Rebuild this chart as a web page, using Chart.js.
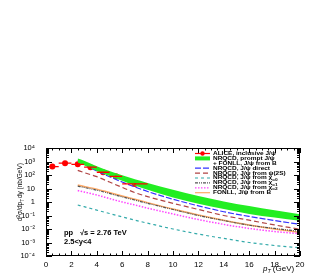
<!DOCTYPE html>
<html>
<head>
<meta charset="utf-8">
<script src="https://cdn.jsdelivr.net/npm/chart.js@4"></script>
<style>
  html, body { margin: 0; padding: 0; background: #fff; }
  #wrap { width: 335px; height: 273px; position: relative; }
</style>
</head>
<body>
<div id="wrap"><canvas id="c"></canvas></div>
<script>
// ALICE inclusive J/psi, pp 2.76 TeV, 2.5<y<4
const alicePt = [0.5, 1.5, 2.5, 3.5, 4.5, 5.5, 7];
const alicePtLow = [0, 1, 2, 3, 4, 5, 6];
const alicePtHigh = [1, 2, 3, 4, 5, 6, 8];
const aliceVal = [420, 750, 620, 380, 160, 80, 22];
const aliceErr = [70, 100, 80, 50, 22, 12, 4];

// model curves (nb/GeV)
const ptModel = [2.5, 3, 4, 5, 6, 7, 8, 10, 12, 14, 16, 18, 20];
const promptLow = [850, 520, 200, 85, 38, 17, 8, 2.2, 0.75, 0.3, 0.13, 0.07, 0.04];
const promptHigh = [1700, 1150, 450, 200, 95, 48, 26, 8, 2.8, 1.1, 0.5, 0.24, 0.125];
const direct = [1300, 650, 200, 75, 30, 13, 6, 1.6, 0.52, 0.19, 0.085, 0.042, 0.022];
const fromPsi2S = [220, 150, 75, 30, 12, 5, 2.5, 0.8, 0.28, 0.1, 0.045, 0.02, 0.0095];
const fromChic0 = [0.6, 0.45, 0.25, 0.14, 0.08, 0.045, 0.027, 0.01, 0.0042, 0.002, 0.001, 0.0006, 0.0004];
const fromChic1 = [15, 12, 7.5, 4.3, 2.4, 1.4, 0.8, 0.28, 0.1, 0.042, 0.019, 0.011, 0.0066];
const fromChic2 = [7, 5.5, 3.3, 1.8, 1.0, 0.6, 0.35, 0.13, 0.05, 0.022, 0.011, 0.0065, 0.0045];
const fonllB = [18, 14, 9, 5, 2.8, 1.6, 0.9, 0.3, 0.11, 0.045, 0.02, 0.01, 0.0056];

const yTickLabels = ['10\u207B\u2074', '10\u207B\u00B3', '10\u207B\u00B2', '10\u207B\u00B9', '1', '10', '10\u00B2', '10\u00B3', '10\u2074'];

const FONT = '"Liberation Sans", Arial, Helvetica, sans-serif';

function pts(xs, ys) {
    return xs.map((x, i) => ({ x: x, y: ys[i] }));
}

function curve(label, ys, color, dash, width) {
    return {
        label: label,
        data: pts(ptModel, ys),
        borderColor: color,
        borderWidth: width || 1.2,
        borderDash: dash,
        pointRadius: 0,
        fill: false,
        tension: 0.4,
        cubicInterpolationMode: 'monotone'
    };
}

const legendRows = [
    { text: 'ALICE, inclusive J/\u03C8', kind: 'point', color: '#ff0000' },
    { text: 'NRQCD, prompt J/\u03C8', kind: 'band', color: '#22ee22' },
    { text: '+ FONLL, J/\u03C8 from B', kind: 'none' },
    { text: 'NRQCD, J/\u03C8 direct', kind: 'line', color: '#3333ff', dash: [6, 2] },
    { text: 'NRQCD, J/\u03C8 from \u03C8(2S)', kind: 'line', color: '#b04444', dash: [5, 3] },
    { text: 'NRQCD, J/\u03C8 from \u03C7', sub: 'c0', kind: 'line', color: '#33aaaa', dash: [3, 3] },
    { text: 'NRQCD, J/\u03C8 from \u03C7', sub: 'c1', kind: 'line', color: '#555555', dash: [3, 1, 1, 1, 1, 1] },
    { text: 'NRQCD, J/\u03C8 from \u03C7', sub: 'c2', kind: 'line', color: '#ff44ff', dash: [1.5, 1.5] },
    { text: 'FONLL, J/\u03C8 from B', kind: 'line', color: '#ffaa66' }
];

const framePlugin = {
    id: 'frame',
    afterDatasetsDraw(chart) {
        const ctx = chart.ctx;
        const xs = chart.scales.x, ys = chart.scales.y;
        // error bars for ALICE points
        ctx.save();
        ctx.strokeStyle = '#ff0000';
        ctx.lineWidth = 1.3;
        alicePt.forEach((p, i) => {
            const cx = xs.getPixelForValue(p);
            const cy = ys.getPixelForValue(aliceVal[i]);
            ctx.beginPath();
            ctx.moveTo(xs.getPixelForValue(alicePtLow[i]), cy);
            ctx.lineTo(xs.getPixelForValue(alicePtHigh[i]), cy);
            ctx.moveTo(cx, ys.getPixelForValue(aliceVal[i] - aliceErr[i]));
            ctx.lineTo(cx, ys.getPixelForValue(aliceVal[i] + aliceErr[i]));
            ctx.stroke();
        });
        ctx.restore();
    },
    afterDraw(chart) {
        const ctx = chart.ctx;
        const a = chart.chartArea;
        const xs = chart.scales.x, ys = chart.scales.y;
        ctx.save();
        ctx.strokeStyle = '#000';
        ctx.lineWidth = 1;
        ctx.strokeRect(a.left + 0.5, a.top + 0.5, a.right - a.left - 1, a.bottom - a.top - 1);

        // x ticks (bottom and top, inward)
        ctx.beginPath();
        for (let v = 0; v <= 20.001; v += 0.5) {
            const px = Math.round(xs.getPixelForValue(v)) + 0.5;
            const len = (Math.abs(v / 2 - Math.round(v / 2)) < 1e-6) ? 5 : 2.5;
            ctx.moveTo(px, a.bottom); ctx.lineTo(px, a.bottom - len);
            ctx.moveTo(px, a.top); ctx.lineTo(px, a.top + len);
        }
        // y ticks (left and right, inward)
        for (let e = -4; e <= 4; e++) {
            for (let m = 1; m <= 9; m++) {
                const v = m * Math.pow(10, e);
                if (v > 1e4 * 1.0001) break;
                const py = Math.round(ys.getPixelForValue(v)) + 0.5;
                const len = m === 1 ? 6 : 3;
                ctx.moveTo(a.left, py); ctx.lineTo(a.left + len, py);
                ctx.moveTo(a.right, py); ctx.lineTo(a.right - len, py);
            }
        }
        ctx.stroke();

        // legend
        const lx0 = 195, lx1 = 210, tx = 213;
        let ly = 153.5;
        const dy = 4.9;
        ctx.textBaseline = 'middle';
        legendRows.forEach(r => {
            ctx.save();
            if (r.kind === 'point') {
                ctx.strokeStyle = r.color; ctx.lineWidth = 1.2;
                ctx.beginPath(); ctx.moveTo(lx0, ly); ctx.lineTo(lx1, ly); ctx.stroke();
                ctx.fillStyle = r.color;
                ctx.beginPath(); ctx.arc((lx0 + lx1) / 2, ly, 2.2, 0, Math.PI * 2); ctx.fill();
            } else if (r.kind === 'band') {
                ctx.fillStyle = r.color;
                ctx.fillRect(lx0, ly - 2, lx1 - lx0, 4);
            } else if (r.kind === 'line') {
                ctx.strokeStyle = r.color; ctx.lineWidth = 1.2;
                ctx.setLineDash(r.dash || []);
                ctx.beginPath(); ctx.moveTo(lx0, ly); ctx.lineTo(lx1, ly); ctx.stroke();
            }
            ctx.restore();
            // slightly widened text, like the reference legend
            ctx.save();
            ctx.translate(tx, ly);
            ctx.scale(1.2, 1);
            ctx.fillStyle = '#000';
            ctx.font = 'bold 5.4px ' + FONT;
            ctx.fillText(r.text, 0, 0);
            if (r.sub) {
                const w = ctx.measureText(r.text).width;
                ctx.font = 'bold 4px ' + FONT;
                ctx.fillText(r.sub, w, 1.5);
            }
            ctx.restore();
            ly += dy;
        });

        // annotation
        ctx.fillStyle = '#000';
        ctx.font = 'bold 7.5px ' + FONT;
        ctx.textBaseline = 'middle';
        ctx.fillText('pp', 64, 233);
        ctx.fillText('\u221As = 2.76 TeV', 80, 233);
        ctx.fillText('2.5<y<4', 64, 242);

        // x title: p_T (GeV)
        ctx.font = 'italic 8px ' + FONT;
        ctx.textBaseline = 'alphabetic';
        let x = 263;
        ctx.fillText('p', x, 271);
        x += ctx.measureText('p').width;
        ctx.font = 'italic 5.5px ' + FONT;
        ctx.fillText('T', x, 273);
        x += ctx.measureText('T').width + 2;
        ctx.font = '8px ' + FONT;
        ctx.fillText('(GeV)', x, 271);

        // y title: d2sigma/dpT dy (nb/GeV)
        ctx.save();
        ctx.translate(22, 221);
        ctx.rotate(-Math.PI / 2);
        const parts = [
            ['d', 6.5, 0], ['2', 4.5, -2.5], ['\u03C3/dp', 6.5, 0], ['T', 4.5, 1.5], ['dy (nb/GeV)', 6.5, 0]
        ];
        let px = 0;
        parts.forEach(p => {
            ctx.font = p[1] + 'px ' + FONT;
            ctx.fillText(p[0], px, p[2]);
            px += ctx.measureText(p[0]).width + (p[0] === 'T' ? 1 : 0);
        });
        ctx.restore();

        ctx.restore();
    }
};

new Chart(document.getElementById('c'), {
    type: 'line',
    data: {
        datasets: [
            {
                label: 'prompt low',
                data: pts(ptModel, promptLow),
                borderWidth: 0,
                borderColor: 'rgba(0,0,0,0)',
                pointRadius: 0,
                fill: false,
                tension: 0.4,
                cubicInterpolationMode: 'monotone'
            },
            {
                label: 'NRQCD, prompt J/\u03C8 + FONLL, J/\u03C8 from B',
                data: pts(ptModel, promptHigh),
                borderWidth: 0,
                borderColor: 'rgba(0,0,0,0)',
                backgroundColor: '#22ee22',
                pointRadius: 0,
                fill: '-1',
                tension: 0.4,
                cubicInterpolationMode: 'monotone'
            },
            curve('NRQCD, J/\u03C8 direct', direct, '#3333ff', [6, 2]),
            curve('NRQCD, J/\u03C8 from \u03C8(2S)', fromPsi2S, '#b04444', [5, 3]),
            curve('NRQCD, J/\u03C8 from \u03C7c0', fromChic0, '#33aaaa', [3, 3]),
            curve('NRQCD, J/\u03C8 from \u03C7c1', fromChic1, '#555555', [3, 1, 1, 1, 1, 1]),
            curve('NRQCD, J/\u03C8 from \u03C7c2', fromChic2, '#ff44ff', [1.5, 1.5], 1.5),
            curve('FONLL, J/\u03C8 from B', fonllB, '#ffaa66', [], 1.5),
            {
                label: 'ALICE, inclusive J/\u03C8',
                data: pts(alicePt, aliceVal),
                showLine: false,
                pointRadius: 3,
                pointStyle: 'circle',
                backgroundColor: '#ff0000',
                borderColor: '#ff0000',
                borderWidth: 0
            }
        ]
    },
    options: {
        responsive: true,
        maintainAspectRatio: false,
        animation: false,
        layout: { padding: { top: 148, right: 35, left: 0, bottom: 0 } },
        plugins: {
            legend: { display: false },
            tooltip: { enabled: false }
        },
        scales: {
            x: {
                type: 'linear',
                min: 0,
                max: 20,
                grid: { display: false },
                border: { display: false },
                ticks: {
                    stepSize: 2,
                    padding: -4,
                    maxRotation: 0,
                    color: '#000',
                    font: { family: FONT, size: 8 }
                },
                afterFit(scale) { scale.height = 17; }
            },
            y: {
                type: 'logarithmic',
                min: 1e-4,
                max: 1e4,
                grid: { display: false },
                border: { display: false },
                afterBuildTicks(scale) {
                    scale.ticks = yTickLabels.map((t, i) => ({ value: Math.pow(10, i - 4) }));
                },
                ticks: {
                    padding: 3,
                    color: '#000',
                    font: { family: FONT, size: 7.5 },
                    callback(value) {
                        const e = Math.round(Math.log10(value));
                        return yTickLabels[e + 4];
                    }
                },
                afterFit(scale) { scale.width = 46; }
            }
        }
    },
    plugins: [framePlugin]
});
</script>
</body>
</html>
